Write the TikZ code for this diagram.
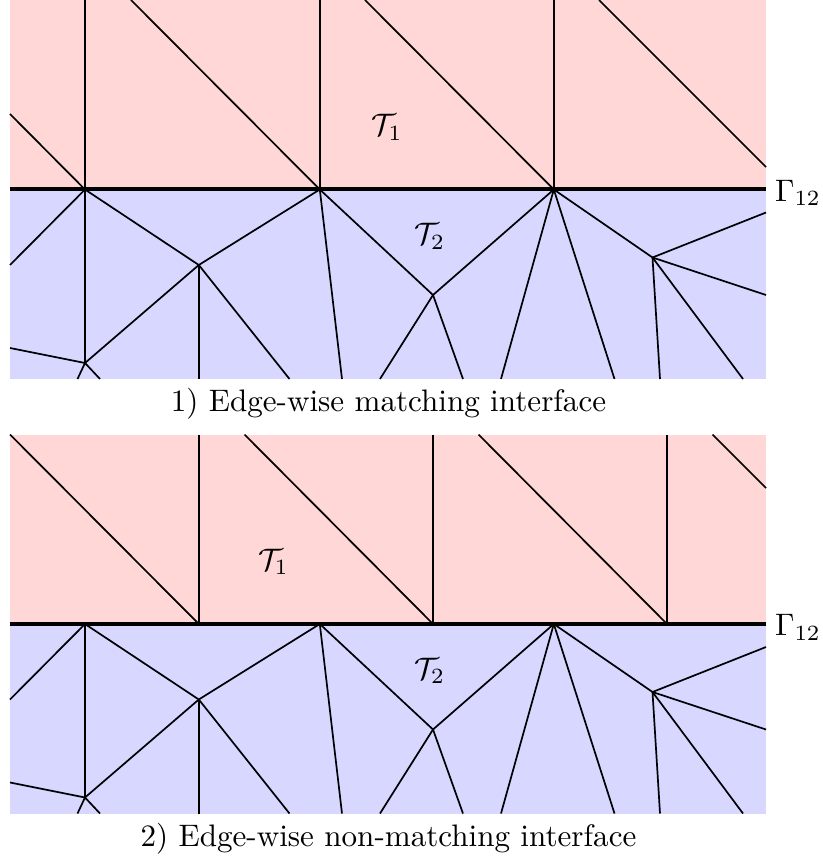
\documentclass[tikz,border=0pt]{standalone}
\definecolor{meshred}{RGB}{255,215,215}
\definecolor{meshblue}{RGB}{215,215,255}
\tikzset{
  edge/.style={draw=black,line width=1.7pt},
  iface/.style={draw=black,line width=4pt},
  lbl/.style={inner sep=0pt,scale=3.11},
}
\newcommand{\lowermesh}[1]{%
  \fill[meshblue] (10,189.5) rectangle (766,379);
  \coordinate (#1A) at (85,189.5);
  \coordinate (#1B) at (319.8,189.5);
  \coordinate (#1C) at (553.8,189.5);
  \coordinate (#1D) at (198.8,265);
  \coordinate (#1E) at (85,363);
  \coordinate (#1F) at (433,295);
  \coordinate (#1G) at (652.5,257.5);
  \coordinate (#1a) at (10,265);
  \coordinate (#1b) at (198.8,379);
  \coordinate (#1c) at (289.5,379);
  \coordinate (#1d) at (342,379);
  \coordinate (#1e) at (380,379);
  \coordinate (#1f) at (463,379);
  \coordinate (#1g) at (501,379);
  \coordinate (#1h) at (614.5,379);
  \coordinate (#1i) at (766,212.5);
  \coordinate (#1j) at (766,295);
  \coordinate (#1k) at (660,379);
  \coordinate (#1l) at (743,379);
  \coordinate (#1m) at (10,348);
  \coordinate (#1n) at (77.5,379);
  \coordinate (#1o) at (100,379);
  \foreach \p/\q in {A/a,A/E,A/D,D/B,D/E,D/b,D/c,B/d,B/F,F/e,F/f,C/F,C/g,C/h,C/G,G/i,G/j,G/k,G/l,E/m,E/n,E/o}
    \draw[edge] (#1\p) -- (#1\q);
}
\begin{document}
\begin{tikzpicture}[x=1pt,y=-1pt]
\useasboundingbox (0,0) rectangle (822,858);
% panel 1
\fill[meshred] (10,0) rectangle (766,189.5);
\lowermesh{p}
\coordinate (u1) at (85,0);
\coordinate (u2) at (319.8,0);
\coordinate (u3) at (553.8,0);
\coordinate (d0) at (10,114);
\coordinate (d1) at (131,0);
\coordinate (d2) at (365,0);
\coordinate (d3) at (599,0);
\coordinate (d4) at (766,167);
\draw[edge] (u1) -- (pA);
\draw[edge] (u2) -- (pB);
\draw[edge] (u3) -- (pC);
\draw[edge] (d0) -- (pA);
\draw[edge] (d1) -- (pB);
\draw[edge] (d2) -- (pC);
\draw[edge] (d3) -- (d4);
\coordinate (il) at (10,189.5);
\coordinate (ir) at (766,189.5);
\draw[iface] (il) -- (ir);
\node[lbl] (t1) at (387,127.5) {$\mathcal{T}_1$};
\node[lbl] (t2) at (429.5,236.5) {$\mathcal{T}_2$};
\node[lbl] (g1) at (798,193) {$\Gamma_{12}$};
\node[lbl] (c1) at (388.5,403.5) {1) Edge-wise matching interface};
% panel 2
\begin{scope}[yshift=-434.5pt]
\fill[meshred] (10,0) rectangle (766,189.5);
\lowermesh{q}
\coordinate (v1) at (198.8,0);
\coordinate (v2) at (433,0);
\coordinate (v3) at (667,0);
\coordinate (w1) at (198.8,189.5);
\coordinate (w2) at (433,189.5);
\coordinate (w3) at (667,189.5);
\coordinate (e0) at (10,0);
\coordinate (e1) at (244.5,0);
\coordinate (e2) at (478.5,0);
\coordinate (e3) at (712.5,0);
\coordinate (e4) at (766,53.5);
\draw[edge] (v1) -- (w1);
\draw[edge] (v2) -- (w2);
\draw[edge] (v3) -- (w3);
\draw[edge] (e0) -- (w1);
\draw[edge] (e1) -- (w2);
\draw[edge] (e2) -- (w3);
\draw[edge] (e3) -- (e4);
\coordinate (jl) at (10,189.5);
\coordinate (jr) at (766,189.5);
\draw[iface] (jl) -- (jr);
\node[lbl] (t3) at (273.5,127.5) {$\mathcal{T}_1$};
\node[lbl] (t4) at (429.5,236.5) {$\mathcal{T}_2$};
\node[lbl] (g2) at (798,193) {$\Gamma_{12}$};
\node[lbl] (c2) at (388.5,404) {2) Edge-wise non-matching interface};
\end{scope}
\end{tikzpicture}
\end{document}
